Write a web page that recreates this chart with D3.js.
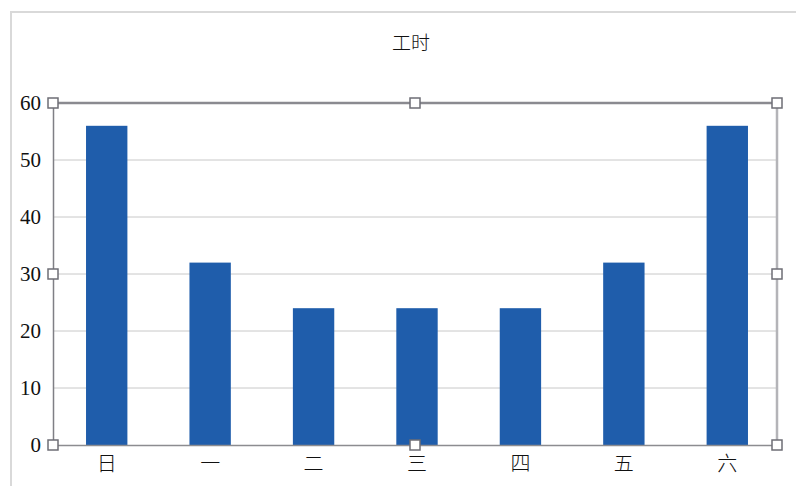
<!DOCTYPE html>
<html><head><meta charset="utf-8">
<script src="https://cdn.jsdelivr.net/npm/d3@7"></script>
<style>body{margin:0;background:#fff;}</style>
</head><body>
<svg id="c" width="796" height="486"></svg>
<script>
const categories = ["日","一","二","三","四","五","六"];
const values = [56, 32, 24, 24, 24, 32, 56];
const yTicks = [0, 10, 20, 30, 40, 50, 60];
const title = "工时";

const svg = d3.select("#c");
const W = 796, H = 486;
const m = {left: 53, right: 19, top: 103, bottom: 41};
const pw = W - m.left - m.right, ph = H - m.top - m.bottom;

svg.append("rect").attr("width", W).attr("height", H).attr("fill", "#fff");
// outer chart frame
svg.append("path").attr("d", `M11,${H+2} V12 H${W+2}`).attr("fill","none")
  .attr("stroke","#d9d9d9").attr("stroke-width",2);

const x = d3.scaleBand().domain(categories).range([m.left + 2, m.left + pw + 2]).paddingInner(0.6).paddingOuter(0.3);
const y = d3.scaleLinear().domain([0, 60]).range([m.top + ph, m.top]);

// gridlines
svg.append("g").selectAll("line").data(yTicks.filter(d => d > 0 && d < 60)).join("line")
  .attr("x1", m.left).attr("x2", m.left + pw)
  .attr("y1", d => y(d)).attr("y2", d => y(d))
  .attr("stroke", "#c8c8c8").attr("stroke-width", 1);

// bars
svg.append("g").selectAll("rect").data(values).join("rect")
  .attr("x", (d, i) => x(categories[i]))
  .attr("width", x.bandwidth())
  .attr("y", d => y(d))
  .attr("height", d => y(0) - y(d))
  .attr("fill", "#1f5dab");

// axes
const yAxis = d3.axisLeft(y).tickValues(yTicks).tickSize(0).tickPadding(12);
const gy = svg.append("g").attr("transform", `translate(${m.left},0)`).call(yAxis);
gy.select(".domain").attr("stroke", "#7f7f85").attr("stroke-width", 1.5);
gy.selectAll("text").attr("font-family", "'Liberation Serif', serif").attr("font-size", 21).attr("fill", "#111");

const xAxis = d3.axisBottom(x).tickSize(0).tickPadding(12);
const gx = svg.append("g").attr("transform", `translate(0,${y(0)})`).call(xAxis);
gx.select(".domain").attr("stroke", "#8c8c90").attr("stroke-width", 1.5);
gx.selectAll("text").attr("font-family", "'Noto Sans CJK SC', sans-serif").attr("font-size", 20).attr("font-weight", 300).attr("fill", "#111");

// selection frame top & right
svg.append("line").attr("x1", m.left).attr("x2", m.left + pw).attr("y1", m.top).attr("y2", m.top)
  .attr("stroke", "#8a8a90").attr("stroke-width", 2.5);
svg.append("line").attr("x1", m.left + pw).attr("x2", m.left + pw).attr("y1", m.top).attr("y2", m.top + ph)
  .attr("stroke", "#b4b4b8").attr("stroke-width", 2.5);

// handles
const xs = [m.left, m.left + pw / 2, m.left + pw];
const ys = [m.top, m.top + ph / 2, m.top + ph];
const handles = [];
xs.forEach((hx, i) => ys.forEach((hy, j) => { if (!(i === 1 && j === 1)) handles.push([hx, hy]); }));
svg.append("g").selectAll("rect").data(handles).join("rect")
  .attr("x", d => d[0] - 5).attr("y", d => d[1] - 5)
  .attr("width", 10).attr("height", 10)
  .attr("fill", "#fff").attr("stroke", "#6e6e75").attr("stroke-width", 1.5);

// title
svg.append("text").attr("x", 411).attr("y", 50).attr("text-anchor", "middle")
  .attr("font-family", "'Noto Sans CJK SC', sans-serif").attr("font-size", 19).attr("font-weight", 300)
  .attr("fill", "#111").text(title);
</script>
</body></html>
